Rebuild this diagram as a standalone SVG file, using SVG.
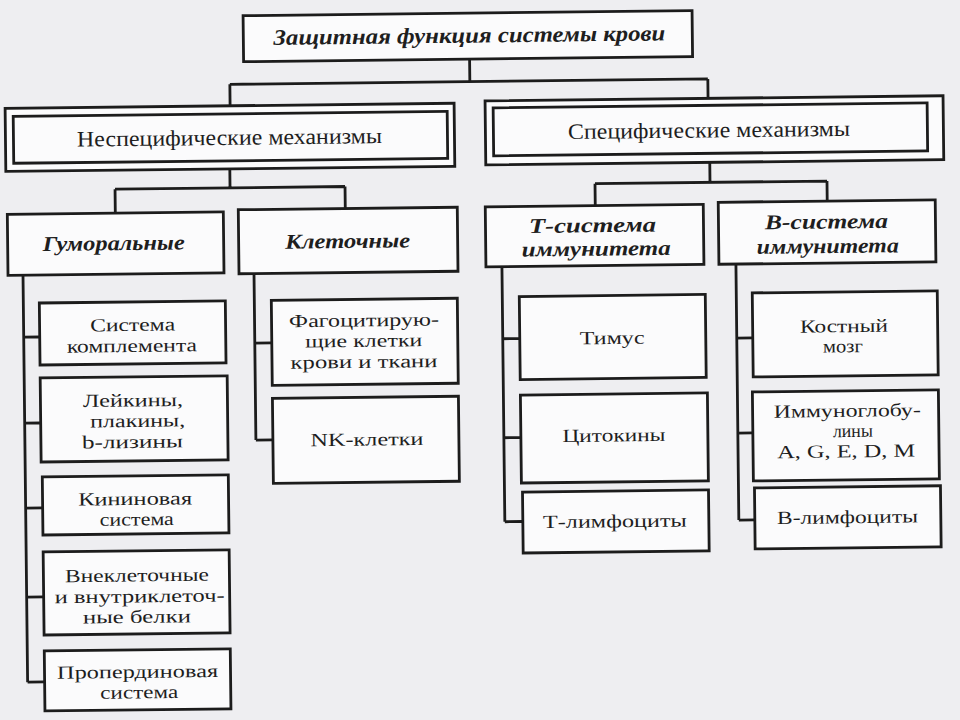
<svg xmlns="http://www.w3.org/2000/svg" width="960" height="720" viewBox="0 0 960 720">
<style>
.bx{fill:#fbfbfc;stroke:#1c1c1c;stroke-width:2.8}
.ln{fill:none;stroke:#1c1c1c;stroke-width:2.8}
text{font-family:"Liberation Serif","DejaVu Serif",serif;fill:#1e1e1e;text-anchor:middle}
.t{font-size:18.5px}
.n{font-size:22px}
.h{font-size:21px;font-weight:bold;font-style:italic}
.ti{font-size:22px;font-weight:bold;font-style:italic}
</style>
<rect x="0" y="0" width="960" height="720" fill="#eeeef1"/>
<g transform="rotate(-0.65 480 360)">
<g id="connectors">
<path class="ln" d="M473 59V81.5M233 81.5H711M233 81.5V103M711 81.5V101"/>
<path class="ln" d="M232 166V185M117 185H347M117 185V209M347 185V207"/>
<path class="ln" d="M712 165V185M597 185H829M597 185V207M829 185V205"/>
<path class="ln" d="M24 270V677M24 332H40M24 418H40M24 503H41M24 592H41M24 677H41"/>
<path class="ln" d="M255 271V437.5M255 340.5H272M255 437.5H272"/>
<path class="ln" d="M503 267V522M503 339H520M503 438H520M503 522H521"/>
<path class="ln" d="M737 267V523M737 341H753M737 436H752M737 523H753"/>
</g>
<g id="root">
<rect class="bx" x="247" y="13" width="449" height="46"/>
<text class="ti" x="473" y="42.5" textLength="392" lengthAdjust="spacingAndGlyphs">Защитная функция системы крови</text>
</g>
<g id="nonspecific">
<rect class="bx" x="8" y="103" width="449" height="63"/>
<rect class="bx" x="16" y="111" width="434" height="47"/>
<text class="n" x="232" y="142" textLength="305" lengthAdjust="spacingAndGlyphs">Неспецифические механизмы</text>
</g>
<g id="specific">
<rect class="bx" x="488" y="101" width="458" height="64"/>
<rect class="bx" x="496" y="108" width="434" height="48"/>
<text class="n" x="711.5" y="140" textLength="282" lengthAdjust="spacingAndGlyphs">Специфические механизмы</text>
</g>
<g id="humoral">
<rect class="bx" x="9" y="209" width="216" height="61"/>
<text class="h" x="115" y="246" textLength="142" lengthAdjust="spacingAndGlyphs">Гуморальные</text>
</g>
<g id="cellular">
<rect class="bx" x="240" y="207" width="219" height="64"/>
<text class="h" x="349" y="246.5" textLength="125" lengthAdjust="spacingAndGlyphs">Клеточные</text>
</g>
<g id="tsystem">
<rect class="bx" x="487" y="207" width="218" height="60"/>
<text class="h" x="594" y="233.5" textLength="127" lengthAdjust="spacingAndGlyphs">Т-система</text>
<text class="h" x="597.5" y="257" textLength="149" lengthAdjust="spacingAndGlyphs">иммунитета</text>
</g>
<g id="bsystem">
<rect class="bx" x="720" y="205" width="217" height="62"/>
<text class="h" x="828" y="232.5" textLength="123" lengthAdjust="spacingAndGlyphs">В-система</text>
<text class="h" x="829" y="257" textLength="142" lengthAdjust="spacingAndGlyphs">иммунитета</text>
</g>
<g id="complement">
<rect class="bx" x="40" y="298" width="186" height="62"/>
<text class="t" x="133" y="327" textLength="85" lengthAdjust="spacingAndGlyphs">Система</text>
<text class="t" x="132" y="348" textLength="130" lengthAdjust="spacingAndGlyphs">комплемента</text>
</g>
<g id="leukins">
<rect class="bx" x="40" y="373" width="187" height="84"/>
<text class="t" x="132.5" y="402.5" textLength="100" lengthAdjust="spacingAndGlyphs">Лейкины,</text>
<text class="t" x="137" y="423" textLength="95" lengthAdjust="spacingAndGlyphs">плакины,</text>
<text class="t" x="131.5" y="444" textLength="101" lengthAdjust="spacingAndGlyphs">b-лизины</text>
</g>
<g id="kinin">
<rect class="bx" x="41" y="472" width="186" height="58"/>
<text class="t" x="133.5" y="501" textLength="114" lengthAdjust="spacingAndGlyphs">Кининовая</text>
<text class="t" x="135" y="521.5" textLength="74" lengthAdjust="spacingAndGlyphs">система</text>
</g>
<g id="proteins">
<rect class="bx" x="41" y="547" width="186" height="83"/>
<text class="t" x="134.5" y="577.5" textLength="144" lengthAdjust="spacingAndGlyphs">Внеклеточные</text>
<text class="t" x="137" y="598.5" textLength="170" lengthAdjust="spacingAndGlyphs">и внутриклеточ-</text>
<text class="t" x="134" y="619" textLength="108" lengthAdjust="spacingAndGlyphs">ные белки</text>
</g>
<g id="properdin">
<rect class="bx" x="41" y="646" width="186" height="60"/>
<text class="t" x="134" y="674" textLength="161" lengthAdjust="spacingAndGlyphs">Пропердиновая</text>
<text class="t" x="135.5" y="694.5" textLength="78" lengthAdjust="spacingAndGlyphs">система</text>
</g>
<g id="phagocytes">
<rect class="bx" x="272" y="298" width="186" height="85"/>
<text class="t" x="364.5" y="325" textLength="150" lengthAdjust="spacingAndGlyphs">Фагоцитирую-</text>
<text class="t" x="364" y="345.5" textLength="117" lengthAdjust="spacingAndGlyphs">щие клетки</text>
<text class="t" x="364" y="366.5" textLength="147" lengthAdjust="spacingAndGlyphs">крови и ткани</text>
</g>
<g id="nk">
<rect class="bx" x="272" y="396" width="186" height="85"/>
<text class="t" x="366" y="444.3" textLength="113" lengthAdjust="spacingAndGlyphs">NK-клетки</text>
</g>
<g id="thymus">
<rect class="bx" x="520" y="297" width="186" height="83"/>
<text class="t" x="612.3" y="345.5" textLength="65" lengthAdjust="spacingAndGlyphs">Тимус</text>
</g>
<g id="cytokines">
<rect class="bx" x="520" y="395.5" width="187" height="88"/>
<text class="t" x="613" y="443" textLength="103" lengthAdjust="spacingAndGlyphs">Цитокины</text>
</g>
<g id="tlymph">
<rect class="bx" x="521" y="492.5" width="186" height="61"/>
<text class="t" x="613" y="528.8" textLength="144" lengthAdjust="spacingAndGlyphs">Т-лимфоциты</text>
</g>
<g id="marrow">
<rect class="bx" x="753" y="296" width="185" height="84"/>
<text class="t" x="844.3" y="336.3" textLength="88" lengthAdjust="spacingAndGlyphs">Костный</text>
<text class="t" x="843" y="356.5" textLength="40" lengthAdjust="spacingAndGlyphs">мозг</text>
</g>
<g id="immunoglobulins">
<rect class="bx" x="752" y="395" width="186" height="89"/>
<text class="t" x="846.7" y="421" textLength="147" lengthAdjust="spacingAndGlyphs">Иммуноглобу-</text>
<text class="t" x="852" y="441.2" textLength="40" lengthAdjust="spacingAndGlyphs">лины</text>
<text class="t" x="845" y="461.5" textLength="138" lengthAdjust="spacingAndGlyphs">A, G, E, D, M</text>
</g>
<g id="blymph">
<rect class="bx" x="753" y="491" width="186" height="61"/>
<text class="t" x="845.7" y="527.4" textLength="141" lengthAdjust="spacingAndGlyphs">В-лимфоциты</text>
</g>
</g>
</svg>
